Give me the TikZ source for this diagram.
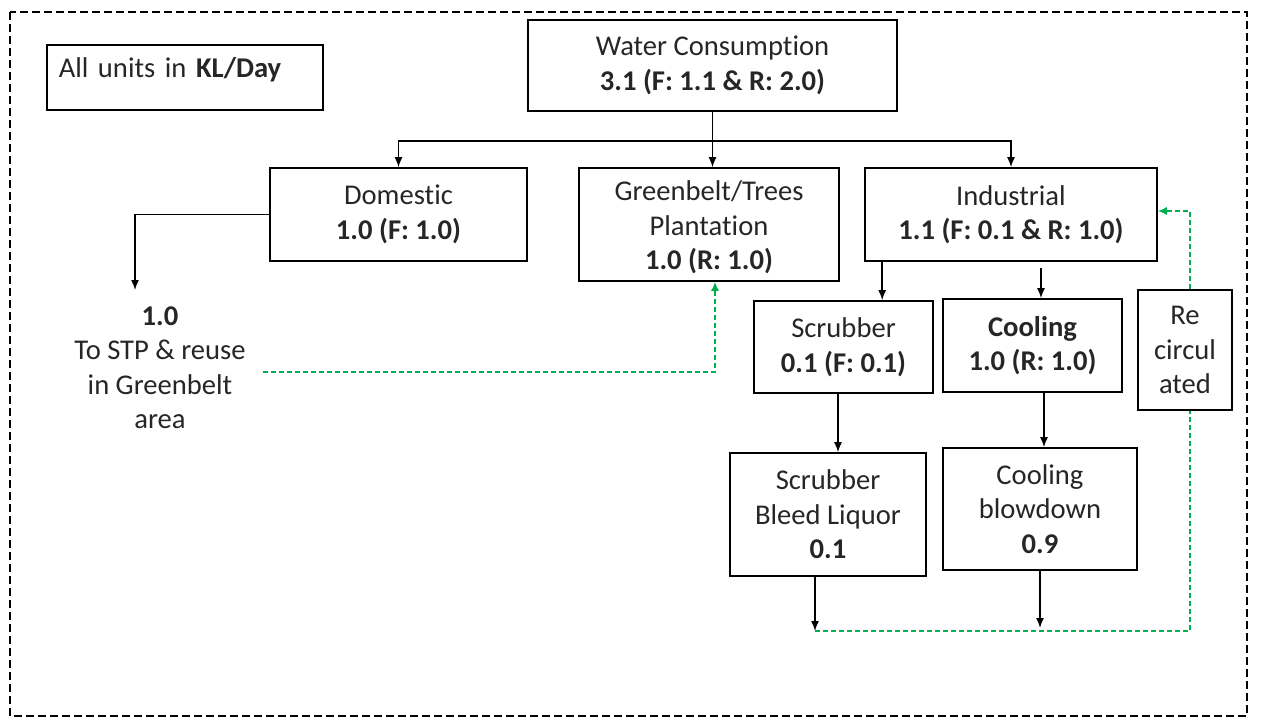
\documentclass[tikz,border=0pt]{standalone}
\usepackage{fontspec}
\setmainfont{Carlito}[Ligatures={NoCommon}]
\usetikzlibrary{arrows.meta,calc}
\definecolor{recyclegreen}{RGB}{0,176,80}

\begin{document}
\begin{tikzpicture}[x=1pt,y=-1pt,
		every node/.style={font=\fontsize{28.6}{34.5}\selectfont, text=black!85},
		flowbox/.style={draw, line width=1.6pt, align=center, inner sep=0pt},
		flowarrow/.style={-{Latex[length=10pt,width=8pt]}, line width=1.5pt},
		greenflow/.style={draw=recyclegreen, dash pattern=on 5pt off 3pt, line width=1.4pt},
		greenarrow/.style={greenflow, -{Latex[length=9pt,width=8pt]}}]
	
	\useasboundingbox (0,0) rectangle (1280,718);
	\draw[line width=1.4pt, dash pattern=on 8pt off 4pt] (10,12) rectangle (1247,716);
	
	% top row
	\node (units) [flowbox, anchor=north west, minimum width=276pt, minimum height=65pt, align=left, inner xsep=12pt, text width=252pt, text height=33pt, text depth=32pt] at (46,44) {All units in \textbf{KL/Day}};
	\node (water) [flowbox, minimum width=369pt, minimum height=91pt] at (712.5,65.5) {Water Consumption\\\textbf{3.1 (F: 1.1 \& R: 2.0)}};
	
	% second row
	\node (domestic) [flowbox, minimum width=257pt, minimum height=93pt] at (398.5,214.5) {Domestic\\\textbf{1.0 (F: 1.0)}};
	\node (greenbelt) [flowbox, minimum width=260pt, minimum height=113pt] at (709,224.5) {\rule{0pt}{26pt}Greenbelt/Trees\\Plantation\\\textbf{1.0 (R: 1.0)}};
	\node (industrial) [flowbox, minimum width=292pt, minimum height=93pt] at (1011,214.5) {Industrial\\\textbf{1.1 (F: 0.1 \& R: 1.0)}};
	\node (stp) [align=center] at (160,367.5) {\textbf{1.0}\\To STP \& reuse\\in Greenbelt\\area};
	
	% industrial split
	\node (scrubber) [flowbox, minimum width=179pt, minimum height=92pt] at (843.5,347) {Scrubber\\\textbf{0.1 (F: 0.1)}};
	\node (cooling) [flowbox, minimum width=179pt, minimum height=93pt] at (1032.5,345.5) {\textbf{Cooling}\\\textbf{1.0 (R: 1.0)}};
	\node (recirc) [flowbox, minimum width=94pt, minimum height=120pt] at (1185,350) {Re\\circul\\ated};
	\node (bleed) [flowbox, minimum width=196pt, minimum height=123pt] at (828,514.5) {Scrubber\\Bleed Liquor\\\textbf{0.1}};
	\node (blowdown) [flowbox, minimum width=194pt, minimum height=122pt] at (1040,509) {Cooling\\blowdown\\\textbf{0.9}};
	
	\coordinate (split) at ($(water.south)+(0,29)$);
	\coordinate (stpin) at (135,290);
	\coordinate (stpout) at (263,372);
	\coordinate (bleedout) at (815,631);
	\coordinate (blowout) at (1040,628);
	
	% black flows
	\draw[line width=1.5pt] (water.south) -- (split);
	\draw[flowarrow] (split) -| (domestic.north);
	\draw[flowarrow] (split) -- (split |- greenbelt.north);
	\draw[flowarrow] (split) -| (industrial.north);
	\draw[flowarrow] (domestic.west) -| (stpin);
	\draw[flowarrow] ([xshift=18pt]industrial.south west) -- ([xshift=18pt]industrial.south west |- scrubber.north);
	\draw[flowarrow, shorten <=6pt] ([xshift=8.5pt]cooling.north |- industrial.south) -- ([xshift=8.5pt]cooling.north);
	\draw[flowarrow] ([xshift=-5.5pt]scrubber.south) -- ([xshift=-5.5pt]scrubber.south |- bleed.north);
	\draw[flowarrow] ([xshift=11.5pt]cooling.south) -- ([xshift=11.5pt]cooling.south |- blowdown.north);
	\draw[flowarrow] ([xshift=-13pt]bleed.south) -- (bleedout);
	\draw[flowarrow] (blowdown.south) -- (blowout);
	
	% green (reused) flows
	\draw[greenarrow] (stpout) -| ([xshift=6pt]greenbelt.south);
	\draw[greenflow] (bleedout) -| ([xshift=5pt]recirc.south);
	\draw[greenarrow] ([xshift=5pt]recirc.north) |- ([yshift=3.5pt]industrial.east);
	
\end{tikzpicture}
\end{document}
